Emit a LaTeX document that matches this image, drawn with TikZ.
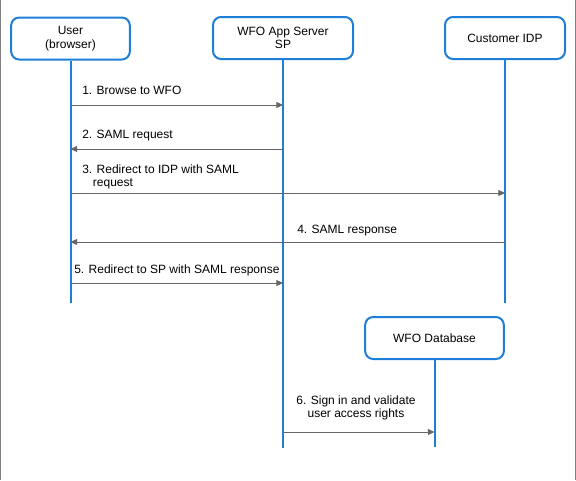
\documentclass[tikz,border=0pt]{standalone}
\usepackage{fontspec}
\setmainfont{Liberation Sans}
\usetikzlibrary{arrows.meta}
\definecolor{lifeblue}{HTML}{1E7FD8}
\definecolor{msggray}{HTML}{666666}
\tikzset{
  actor/.style={draw=lifeblue, line width=1.5pt, rounded corners=6pt, fill=white,
    align=center, inner sep=0pt, minimum height=31.5pt,
    font=\fontsize{9}{10}\selectfont},
  life/.style={draw=lifeblue, line width=1.5pt},
  msg/.style={draw=msggray, line width=0.75pt, -{Triangle[length=5pt,width=4.5pt]}},
  lbl/.style={align=left, inner sep=0pt, anchor=west, font=\fontsize{9}{10}\selectfont}
}
\begin{document}
\begin{tikzpicture}[x=0.75pt,y=-0.75pt]
\useasboundingbox (0,0) rectangle (576,480);
% frame
\draw[gray] (0.5,0) -- (0.5,480);
\draw[gray] (575,0) -- (575,480);
% actors
\node[actor, minimum width=89pt] (user) at (70.5,38.5) {User\\(browser)};
\node[actor, minimum width=105pt] (app) at (283,38) {WFO App Server\\SP};
\node[actor, minimum width=90pt] (idp) at (505,38) {Customer IDP};
\node[actor, minimum width=104pt] (db) at (434.5,338) {WFO Database};
% lifelines
\coordinate (userend) at (user |- 0,303);
\coordinate (append) at (app |- 0,448);
\coordinate (idpend) at (idp |- 0,303);
\coordinate (dbend) at (db |- 0,447);
\draw[life] (user) -- (userend);
\draw[life] (app) -- (append);
\draw[life] (idp) -- (idpend);
\draw[life] (db) -- (dbend);
% messages
\draw[msg] (user |- 0,105) -- (app |- 0,105);
\draw[msg] (app |- 0,149) -- (user |- 0,149);
\draw[msg] (user |- 0,193) -- (idp |- 0,193);
\draw[msg] (idp |- 0,242) -- (user |- 0,242);
\draw[msg] (user |- 0,283) -- (app |- 0,283);
\draw[msg] (app |- 0,432) -- (db |- 0,432);
% labels
\node[lbl] (m1) at (82,90) {1. Browse to WFO};
\node[lbl] (m2) at (82,136) {2. SAML request};
\node[lbl] (m3) at (82,177) {3. Redirect to IDP with SAML\\\hspace{8pt}request};
\node[lbl] (m4) at (297,231) {4. SAML response};
\node[lbl] (m5) at (74,270) {5. Redirect to SP with SAML response};
\node[lbl, align=center, anchor=center] (m6) at (356,408) {6. Sign in and validate\\user access rights};
\end{tikzpicture}
\end{document}
